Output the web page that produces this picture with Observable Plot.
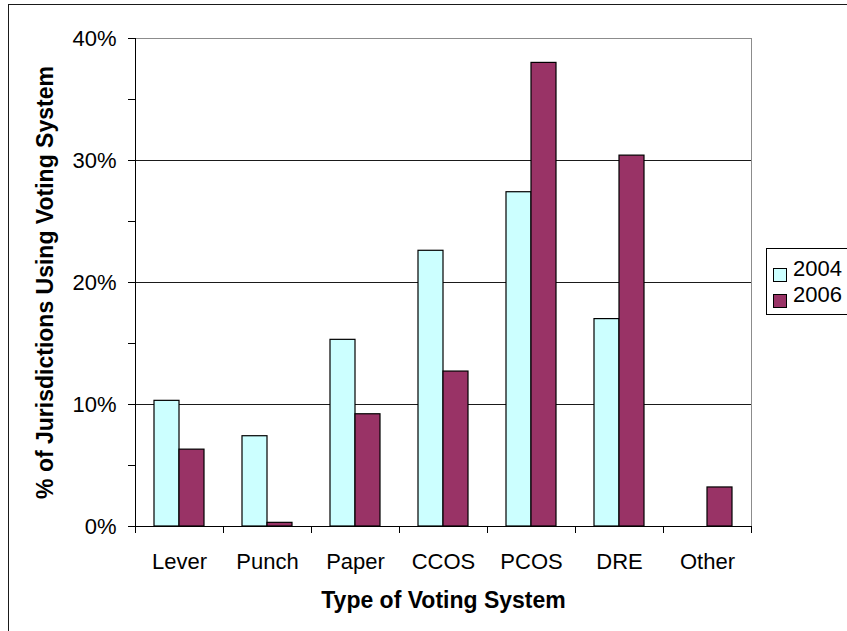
<!DOCTYPE html>
<html>
<head>
<meta charset="utf-8">
<script src="https://cdn.jsdelivr.net/npm/d3@7"></script>
<script src="https://cdn.jsdelivr.net/npm/@observablehq/plot@0.6"></script>
<style>
html, body { margin: 0; padding: 0; background: #fff; overflow: hidden; }
#wrap { position: relative; width: 847px; height: 631px; overflow: hidden; background: #fff;
  font-family: "Liberation Sans", Arial, sans-serif; }
#chart { position: absolute; left: 0; top: 0; }
#chart svg { font-family: "Liberation Sans", Arial, sans-serif; }
#chart g[aria-label="y-axis label"] text,
#chart g[aria-label="fx-axis label"] text { font-weight: bold; font-size: 23px; }
#border { position: absolute; left: 8px; top: 4px; width: 900px; height: 700px;
  border: 1px solid #1a1a1a; box-sizing: border-box; pointer-events: none; }
#legend { position: absolute; left: 766px; top: 248px; width: 120px; height: 67px;
  border: 1px solid #000; box-sizing: border-box; background: #fff; padding-top: 7px;
  font-size: 22px; font-family: "Liberation Sans", Arial, sans-serif; color: #000; }
#legend .row { display: flex; align-items: flex-start; height: 25.7px; line-height: 25.7px; }
#legend .sw { width: 14px; height: 14px; border: 1px solid #000; box-sizing: border-box;
  margin: 12px 6px 0 6px; flex: none; }
</style>
</head>
<body>
<div id="wrap">
  <div id="chart"></div>
  <div id="border"></div>
  <div id="legend"></div>
</div>
<script>
const categories = ["Lever", "Punch", "Paper", "CCOS", "PCOS", "DRE", "Other"];
const years = ["2004", "2006"];
const values2004 = [10.3, 7.4, 15.3, 22.6, 27.4, 17.0, null];
const values2006 = [6.3, 0.3, 9.2, 12.7, 38.0, 30.4, 3.2];
const yTicks = [0, 10, 20, 30, 40];
const yTickLabels = ["0%", "10%", "20%", "30%", "40%"];
const yMinorTicks = [5, 15, 25, 35];
const colors = ["#CCFFFF", "#993366"];
const xTitle = "Type of Voting System";
const yTitle = "% of Jurisdictions Using Voting System";

const data = [];
categories.forEach((c, i) => {
  if (values2004[i] != null) data.push({category: c, year: years[0], value: values2004[i]});
  if (values2006[i] != null) data.push({category: c, year: years[1], value: values2006[i]});
});

const W = 847, H = 631, mL = 132, mR = 94, mT = 38, mB = 105;
const plotH = H - mT - mB;

const chart = Plot.plot({
  width: W, height: H,
  marginLeft: mL, marginRight: mR, marginTop: mT, marginBottom: mB,
  style: {background: "transparent", fontFamily: "Liberation Sans, Arial, sans-serif", fontSize: "22px", color: "#000"},
  fx: {domain: categories, padding: 0, label: null},
  x: {domain: years, paddingInner: 0, paddingOuter: 0.727, axis: null},
  y: {domain: [0, 40], label: null},
  color: {domain: years, range: colors},
  marks: [
    Plot.gridY(yTicks.slice(1, -1), {stroke: "#1a1a1a", strokeOpacity: 1}),
    Plot.frame({anchor: "top", stroke: "#8c8c8c"}),
    Plot.frame({anchor: "right", facetAnchor: "right", stroke: "#8c8c8c"}),
    Plot.barY(data, {fx: "category", x: "year", y: "value", fill: "year", stroke: "#000", strokeWidth: 1.2}),
    Plot.ruleY([0], {stroke: "#000"}),
    Plot.frame({anchor: "left", facetAnchor: "left", stroke: "#000"}),
    Plot.frame({anchor: "left", insetTop: plotH, insetBottom: -6, stroke: "#000"}),
    Plot.frame({anchor: "right", facetAnchor: "right", insetTop: plotH, insetBottom: -6, stroke: "#000"}),
    Plot.axisY({
      ticks: [...yTicks, ...yMinorTicks],
      tickSize: 7, tickPadding: 12, fontSize: 22,
      tickFormat: d => yTicks.includes(d) ? yTickLabels[yTicks.indexOf(d)] : "",
      label: yTitle, labelAnchor: "center", labelOffset: 99, labelArrow: "none"
    }),
    Plot.axisFx({
      anchor: "bottom", tickSize: 0, tickPadding: 27, fontSize: 22,
      label: xTitle, labelAnchor: "center", labelOffset: 81, labelArrow: "none"
    })
  ]
});
document.getElementById("chart").appendChild(chart);

const legend = document.getElementById("legend");
years.forEach((y, i) => {
  const row = document.createElement("div");
  row.className = "row";
  const sw = document.createElement("span");
  sw.className = "sw";
  sw.style.background = colors[i];
  const lbl = document.createElement("span");
  lbl.textContent = y;
  row.appendChild(sw);
  row.appendChild(lbl);
  legend.appendChild(row);
});
</script>
</body>
</html>
